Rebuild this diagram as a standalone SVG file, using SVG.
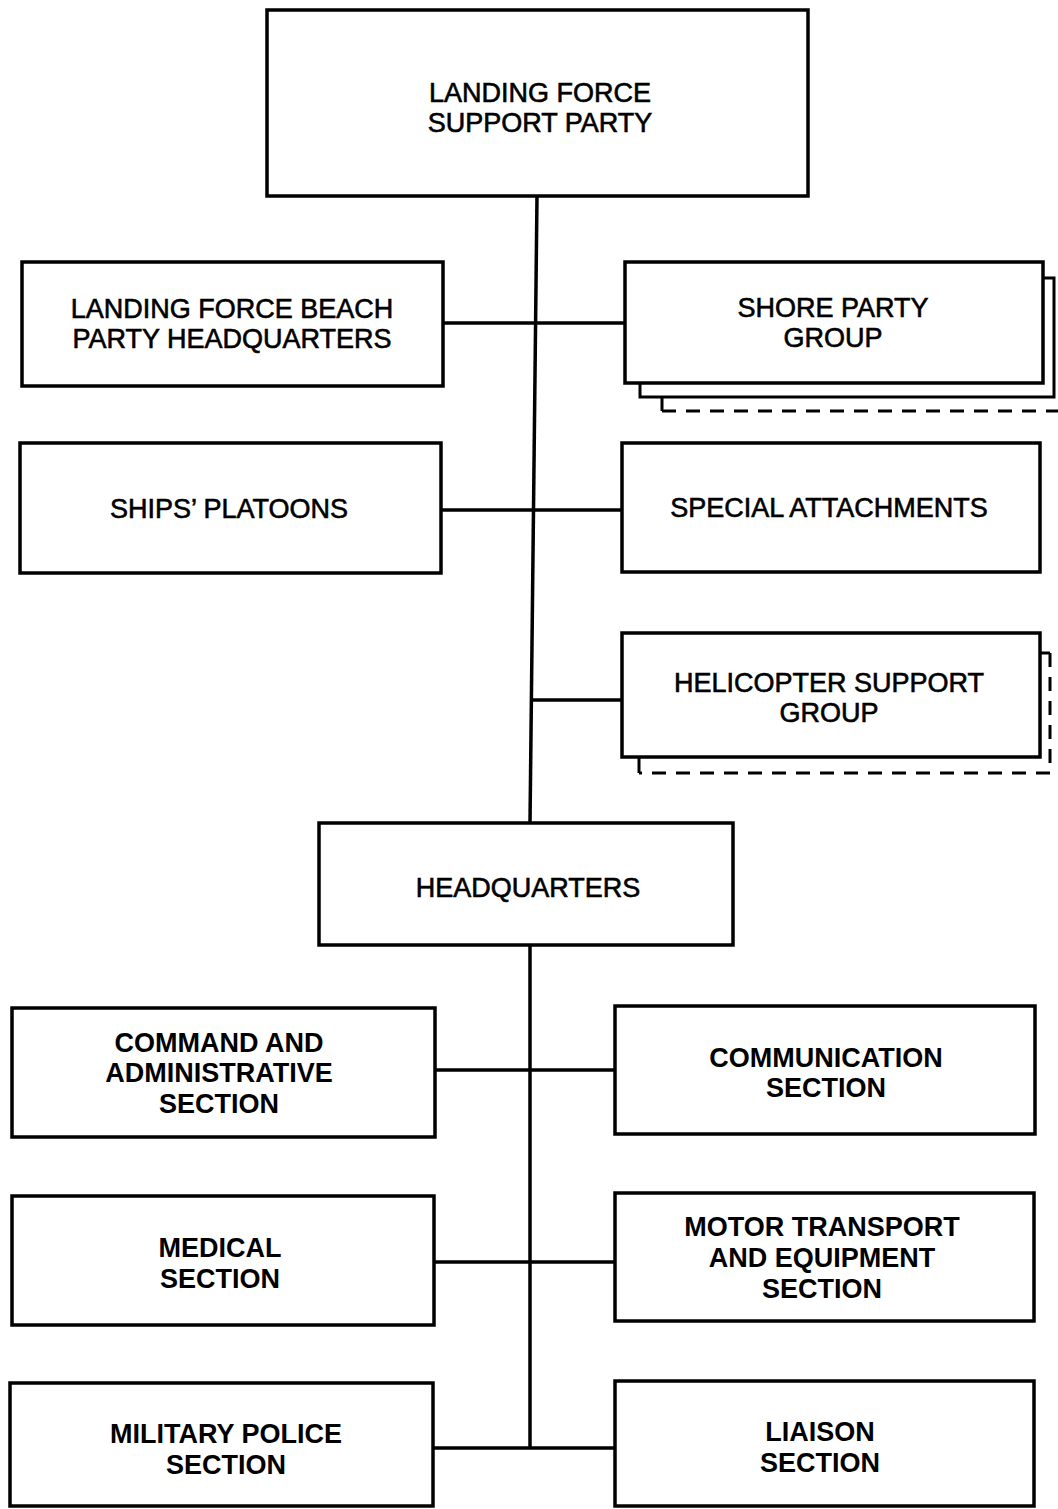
<svg xmlns="http://www.w3.org/2000/svg" width="1058" height="1509" viewBox="0 0 1058 1509">
<style>
.box{fill:#fff;stroke:#000;stroke-width:3.5}
.sh{fill:none;stroke:#000;stroke-width:3}
.dash{fill:none;stroke:#000;stroke-width:3;stroke-dasharray:14 10}
.ln{fill:none;stroke:#000;stroke-width:3.5}
.t{font-family:"Liberation Sans",Arial,sans-serif;font-size:27px;text-anchor:middle;fill:#000;stroke:#000;stroke-width:0.6}
.b{font-family:"Liberation Sans",Arial,sans-serif;font-size:27px;font-weight:bold;text-anchor:middle;fill:#000}
</style>
<rect width="1058" height="1509" fill="#fff"/>
<g id="connectors">
<line class="ln" x1="537" y1="196" x2="530" y2="823"/>
<line class="ln" x1="443" y1="323" x2="625" y2="323"/>
<line class="ln" x1="441" y1="510" x2="622" y2="510"/>
<line class="ln" x1="531" y1="700" x2="622" y2="700"/>
<line class="ln" x1="530" y1="945" x2="530" y2="1448"/>
<line class="ln" x1="435" y1="1070" x2="615" y2="1070"/>
<line class="ln" x1="434" y1="1262" x2="615" y2="1262"/>
<line class="ln" x1="433" y1="1448" x2="615" y2="1448"/>
</g>
<g id="lfsp">
<rect class="box" x="267" y="10" width="541" height="186"/>
<text class="t" x="540" y="102">LANDING FORCE</text>
<text class="t" x="540" y="132">SUPPORT PARTY</text>
</g>
<g id="beach-hq">
<rect class="box" x="22" y="262" width="421" height="124"/>
<text class="t" x="232" y="318">LANDING FORCE BEACH</text>
<text class="t" x="232" y="348">PARTY HEADQUARTERS</text>
</g>
<g id="shore-party">
<path class="dash" d="M662,411 H1058"/>
<line class="sh" x1="662" y1="397" x2="662" y2="411"/>
<path class="sh" d="M1043,278 H1054 V397 H640 V383"/>
<rect class="box" x="625" y="262" width="418" height="121"/>
<text class="t" x="833" y="317">SHORE PARTY</text>
<text class="t" x="833" y="347">GROUP</text>
</g>
<g id="ships-platoons">
<rect class="box" x="20" y="443" width="421" height="130"/>
<text class="t" x="229" y="518">SHIPS’ PLATOONS</text>
</g>
<g id="special-attachments">
<rect class="box" x="622" y="443" width="418" height="129"/>
<text class="t" x="829" y="517">SPECIAL ATTACHMENTS</text>
</g>
<g id="helicopter">
<path class="sh" d="M1040,653 H1050"/>
<path class="dash" d="M1050,653 V773 H639"/>
<line class="sh" x1="639" y1="757" x2="639" y2="773"/>
<rect class="box" x="622" y="633" width="418" height="124"/>
<text class="t" x="829" y="692">HELICOPTER SUPPORT</text>
<text class="t" x="829" y="722">GROUP</text>
</g>
<g id="headquarters">
<rect class="box" x="319" y="823" width="414" height="122"/>
<text class="t" x="528" y="897">HEADQUARTERS</text>
</g>
<g id="command">
<rect class="box" x="12" y="1008" width="423" height="129"/>
<text class="b" x="219" y="1052">COMMAND AND</text>
<text class="b" x="219" y="1082">ADMINISTRATIVE</text>
<text class="b" x="219" y="1113">SECTION</text>
</g>
<g id="communication">
<rect class="box" x="615" y="1006" width="420" height="128"/>
<text class="b" x="826" y="1067">COMMUNICATION</text>
<text class="b" x="826" y="1097">SECTION</text>
</g>
<g id="medical">
<rect class="box" x="12" y="1196" width="422" height="129"/>
<text class="b" x="220" y="1257">MEDICAL</text>
<text class="b" x="220" y="1288">SECTION</text>
</g>
<g id="motor-transport">
<rect class="box" x="615" y="1193" width="419" height="128"/>
<text class="b" x="822" y="1236">MOTOR TRANSPORT</text>
<text class="b" x="822" y="1267">AND EQUIPMENT</text>
<text class="b" x="822" y="1298">SECTION</text>
</g>
<g id="military-police">
<rect class="box" x="10" y="1383" width="423" height="123"/>
<text class="b" x="226" y="1443">MILITARY POLICE</text>
<text class="b" x="226" y="1474">SECTION</text>
</g>
<g id="liaison">
<rect class="box" x="615" y="1381" width="419" height="125"/>
<text class="b" x="820" y="1441">LIAISON</text>
<text class="b" x="820" y="1472">SECTION</text>
</g>
</svg>
